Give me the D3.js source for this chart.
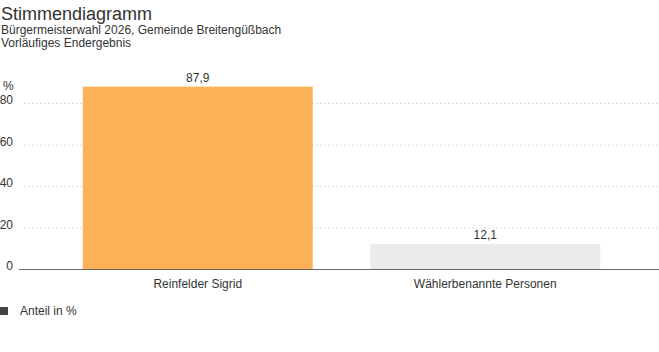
<!DOCTYPE html>
<html>
<head>
<meta charset="utf-8">
<script src="https://cdn.jsdelivr.net/npm/d3@7"></script>
<style>
  body { margin: 0; background: #fff; }
  svg { display: block; font-family: "Liberation Sans", Arial, sans-serif; }
</style>
</head>
<body>
<svg id="chart" width="659" height="352"></svg>
<script>
// DATA
const categories = ["Reinfelder Sigrid", "Wählerbenannte Personen"]
const values = [87.9, 12.1]
const barColours = ["#fdb25a", "#ebebeb"]
const yTicks = [0, 20, 40, 60, 80]

let svg = d3.select('#chart')

// TITLE
svg.append('text').attr('x', 1).attr('y', 20)
    .attr('font-size', 18).attr('fill', '#333').text("Stimmendiagramm")
svg.append('text').attr('x', 1).attr('y', 34)
    .attr('font-size', 12).attr('fill', '#333').text("Bürgermeisterwahl 2026, Gemeinde Breitengüßbach")
svg.append('text').attr('x', 1).attr('y', 47)
    .attr('font-size', 12).attr('fill', '#333').text("Vorläufiges Endergebnis")

// SCALES
let x = d3.scaleBand()
    .domain(categories)
    .range([54, 629])
    .paddingInner(0.2)
    .paddingOuter(0.1)
let y = d3.scaleLinear()
    .domain([0, 80])
    .range([269, 103])

// GRID
svg.append('g')
    .selectAll('line')
    .data(yTicks.filter(d => d > 0))
    .join('line')
    .attr('x1', 24).attr('x2', 659)
    .attr('y1', d => y(d) + 0.5).attr('y2', d => y(d) + 0.5)
    .attr('stroke', '#dcdcdc')
    .attr('stroke-dasharray', '2,2')

// Y TICK LABELS
svg.append('g')
    .selectAll('text')
    .data(yTicks)
    .join('text')
    .attr('x', 13)
    .attr('y', d => y(d) + 1)
    .attr('text-anchor', 'end')
    .attr('font-size', 12)
    .attr('fill', '#333')
    .text(d => d)
svg.append('text').attr('x', 3).attr('y', 90)
    .attr('font-size', 12).attr('fill', '#333').text("%")

// BARS
svg.append('g')
    .selectAll('rect')
    .data(values)
    .join('rect')
    .attr('x', (d, i) => x(categories[i]))
    .attr('y', d => y(d))
    .attr('width', x.bandwidth())
    .attr('height', d => y(0) - y(d))
    .attr('fill', (d, i) => barColours[i])

// VALUE LABELS
svg.append('g')
    .selectAll('text')
    .data(values)
    .join('text')
    .attr('x', (d, i) => x(categories[i]) + x.bandwidth() / 2)
    .attr('y', d => y(d) - 5)
    .attr('text-anchor', 'middle')
    .attr('font-size', 12)
    .attr('fill', '#333')
    .text(d => d.toFixed(1).replace('.', ','))

// X AXIS
svg.append('line')
    .attr('x1', 19).attr('x2', 659)
    .attr('y1', y(0) + 0.5).attr('y2', y(0) + 0.5)
    .attr('stroke', '#666')
svg.append('g')
    .selectAll('text')
    .data(categories)
    .join('text')
    .attr('x', d => x(d) + x.bandwidth() / 2)
    .attr('y', 288)
    .attr('text-anchor', 'middle')
    .attr('font-size', 12)
    .attr('fill', '#333')
    .text(d => d)

// LEGEND
svg.append('rect').attr('x', 0).attr('y', 307).attr('width', 8).attr('height', 8).attr('fill', '#444')
svg.append('text').attr('x', 20).attr('y', 315)
    .attr('font-size', 12).attr('fill', '#333').text("Anteil in %")
</script>
</body>
</html>
